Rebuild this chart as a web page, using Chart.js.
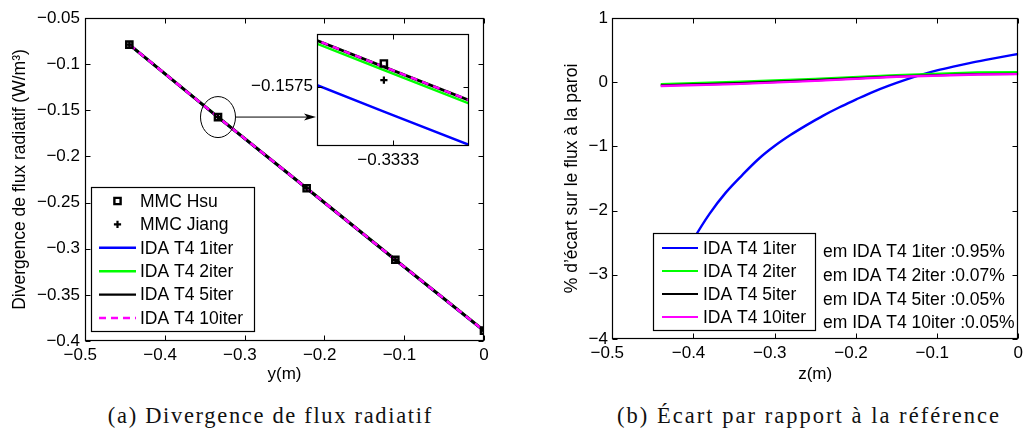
<!DOCTYPE html>
<html><head><meta charset="utf-8">
<script src="https://cdn.jsdelivr.net/npm/chart.js@4.4.1/dist/chart.umd.min.js"></script>
<style>
html,body{margin:0;padding:0;background:#fff;width:1027px;height:428px;overflow:hidden;position:relative}
canvas{position:absolute}
.cap{position:absolute;font-family:"Liberation Serif","DejaVu Serif",serif;font-size:22.5px;line-height:22px;white-space:nowrap;color:#111;text-align:center;width:600px}
</style></head><body>
<canvas id="cA" width="500" height="390" style="left:0;top:0"></canvas>
<canvas id="cI" width="250" height="160" style="left:230px;top:20px"></canvas>
<canvas id="cB" width="517" height="390" style="left:510px;top:0"></canvas>
<div class="cap" id="capA"></div>
<div class="cap" id="capB"></div>
<script>
// ---------- data: panel (a) ----------
const yPos      = [-0.44444, -0.33333, -0.22222, -0.11111, 0];
const mmcHsu    = [-0.0789, -0.15736, -0.2345, -0.3120, -0.3888];
const mmcJiang  = [-0.0789, -0.15746, -0.2345, -0.3120, -0.3888];
const idaA_1    = [-0.0791, -0.15765, -0.2348, -0.3123, -0.3891];
const idaA_2    = [-0.0789, -0.15740, -0.2345, -0.3120, -0.3888];
const idaA_5    = [-0.0789, -0.15738, -0.2345, -0.3120, -0.3888];
const idaA_10   = [-0.0789, -0.15738, -0.2345, -0.3120, -0.3888];
const xTicksA   = [-0.5, -0.4, -0.3, -0.2, -0.1, 0];
const yTicksA   = [-0.4, -0.35, -0.3, -0.25, -0.2, -0.15, -0.1, -0.05];
const insetXRange = [-0.33355, -0.33305];
const insetYRange = [-0.157858, -0.157183];
const insetXTick  = [-0.3333];
const insetYTick  = [-0.1575];
const labelsA   = ['MMC Hsu', 'MMC Jiang', 'IDA T4 1iter', 'IDA T4 2iter', 'IDA T4 5iter', 'IDA T4 10iter'];

// ---------- data: panel (b) ----------
const zBlue   = [-0.44,-0.42,-0.40,-0.38,-0.36,-0.34,-0.32,-0.30,-0.28,-0.26,-0.24,-0.22,-0.20,-0.18,-0.16,-0.14,-0.12,-0.10,-0.08,-0.06,-0.04,-0.02,0];
const ecart1  = [-3.42,-2.90,-2.45,-2.05,-1.72,-1.45,-1.20,-0.995,-0.82,-0.665,-0.52,-0.39,-0.272,-0.157,-0.057,0.033,0.113,0.183,0.243,0.298,0.348,0.395,0.44];
const zIter   = [-0.44, -0.35, -0.25, -0.15, -0.05, 0];
const ecart2  = [-0.03, 0.005, 0.05, 0.11, 0.15, 0.155];
const ecart5  = [-0.05, -0.02, 0.03, 0.09, 0.125, 0.13];
const ecart10 = [-0.06, -0.03, 0.02, 0.085, 0.12, 0.125];
const xTicksB = [-0.5, -0.4, -0.3, -0.2, -0.1, 0];
const yTicksB = [-4, -3, -2, -1, 0, 1];
const labelsB = ['IDA T4 1iter', 'IDA T4 2iter', 'IDA T4 5iter', 'IDA T4 10iter'];
const emValues = [0.95, 0.07, 0.05, 0.05];

const captionA = '(a) Divergence de flux radiatif';
const captionB = '(b) \u00c9cart par rapport \u00e0 la r\u00e9f\u00e9rence';

// ---------- helpers ----------
const SANS = '"Liberation Sans", Arial, Helvetica, sans-serif';
Chart.defaults.font.family = SANS;
Chart.defaults.font.size = 17;
Chart.defaults.color = '#000';
const MINUS = '\u2212';
function fmt(v){ return (v < 0 ? MINUS : '') + String(Math.abs(v)); }
function fmtX(v){ return v < 0 ? fmt(v) + '\u2007' : fmt(v); }
const pts = (xs, ys) => xs.map((x, i) => ({x: x, y: ys[i]}));
const BLUE = '#0000ff', GREEN = '#00ff00', BLACK = '#000000', MAGENTA = '#ff00ff';

function drawBox(chart, len){
  const {ctx, chartArea: a} = chart;
  const xs = chart.scales.x, ys = chart.scales.y;
  const L = Math.round(a.left) + 0.5, R = Math.round(a.right) - 0.5;
  const T = Math.round(a.top) + 0.5, B = Math.round(a.bottom) - 0.5;
  ctx.save();
  ctx.setLineDash([]);
  ctx.strokeStyle = '#000'; ctx.lineWidth = 1;
  ctx.beginPath();
  xs.ticks.forEach(t => {
    const p = Math.round(xs.getPixelForValue(t.value)) + 0.5;
    ctx.moveTo(p, B); ctx.lineTo(p, B - len);
    ctx.moveTo(p, T); ctx.lineTo(p, T + len);
  });
  ys.ticks.forEach(t => {
    const p = Math.round(ys.getPixelForValue(t.value)) + 0.5;
    ctx.moveTo(L, p); ctx.lineTo(L + len, p);
    ctx.moveTo(R, p); ctx.lineTo(R - len, p);
  });
  ctx.stroke();
  ctx.lineWidth = 1.2;
  ctx.strokeRect(L, T, R - L, B - T);
  ctx.restore();
}

function drawLegend(chart, cfg){
  const ctx = chart.ctx;
  ctx.save();
  ctx.fillStyle = '#fff';
  ctx.fillRect(cfg.x0, cfg.y0, cfg.x1 - cfg.x0, cfg.y1 - cfg.y0);
  ctx.strokeStyle = '#000'; ctx.lineWidth = 1.2; ctx.setLineDash([]);
  ctx.strokeRect(cfg.x0 + 0.5, cfg.y0 + 0.5, cfg.x1 - cfg.x0 - 1, cfg.y1 - cfg.y0 - 1);
  chart.data.datasets.forEach((ds, i) => {
    const y = cfg.row0 + i * cfg.step;
    const cx = (cfg.s0 + cfg.s1) / 2;
    if (ds.showLine === false) {
      ctx.strokeStyle = '#000'; ctx.lineWidth = ds.pointBorderWidth; ctx.setLineDash([]);
      ctx.beginPath();
      if (ds.pointStyle === 'rect') {
        const h = ds.pointRadius * Math.SQRT1_2;
        ctx.rect(cx - h, y - h, 2 * h, 2 * h);
      } else {
        const r = ds.pointRadius;
        ctx.moveTo(cx - r, y); ctx.lineTo(cx + r, y);
        ctx.moveTo(cx, y - r); ctx.lineTo(cx, y + r);
      }
      ctx.stroke();
    } else {
      ctx.strokeStyle = ds.borderColor; ctx.lineWidth = cfg.lw;
      ctx.setLineDash(ds.borderDash || []);
      ctx.beginPath(); ctx.moveTo(cfg.s0, y); ctx.lineTo(cfg.s1, y); ctx.stroke();
      ctx.setLineDash([]);
    }
    ctx.fillStyle = '#000';
    ctx.font = cfg.font;
    ctx.textAlign = 'left'; ctx.textBaseline = 'middle';
    ctx.fillText(ds.label, cfg.tx, y + 1);
  });
  ctx.restore();
}

// ---------- panel (a) datasets ----------
function datasetsA(lw){
  return [
    {label: labelsA[0], data: pts(yPos, mmcHsu), showLine: false, pointStyle: 'rect', pointRadius: 4.4,
     pointBorderWidth: 2.4, pointBorderColor: '#000', pointBackgroundColor: 'rgba(0,0,0,0)', borderColor: '#000', order: 0},
    {label: labelsA[1], data: pts(yPos, mmcJiang), showLine: false, pointStyle: 'cross', pointRadius: 3.6,
     pointBorderWidth: 2.2, pointBorderColor: '#000', pointBackgroundColor: '#000', borderColor: '#000', order: 1},
    {label: labelsA[2], data: pts(yPos, idaA_1), borderColor: BLUE, borderWidth: lw, pointRadius: 0, order: 5},
    {label: labelsA[3], data: pts(yPos, idaA_2), borderColor: GREEN, borderWidth: lw, pointRadius: 0, order: 4},
    {label: labelsA[4], data: pts(yPos, idaA_5), borderColor: BLACK, borderWidth: lw + 0.4, pointRadius: 0, order: 3},
    {label: labelsA[5], data: pts(yPos, idaA_10), borderColor: MAGENTA, borderWidth: lw, borderDash: [7, 5], pointRadius: 0, order: 2}
  ];
}

const decorA = {
  id: 'decorA',
  afterDatasetsDraw(chart){
    const ctx = chart.ctx, xs = chart.scales.x, ys = chart.scales.y;
    const cx = xs.getPixelForValue(yPos[1]), cy = ys.getPixelForValue(mmcHsu[1]);
    const rx = 17.5, ry = 20.5, tx = 316;
    ctx.save();
    ctx.strokeStyle = '#000'; ctx.lineWidth = 1; ctx.setLineDash([]);
    ctx.beginPath(); ctx.ellipse(cx, cy, rx, ry, 0, 0, Math.PI * 2); ctx.stroke();
    ctx.beginPath(); ctx.moveTo(cx + rx, cy); ctx.lineTo(tx - 8, cy); ctx.stroke();
    ctx.fillStyle = '#000';
    ctx.beginPath(); ctx.moveTo(tx, cy); ctx.lineTo(tx - 12, cy - 3.5); ctx.lineTo(tx - 9, cy); ctx.lineTo(tx - 12, cy + 3.5); ctx.closePath(); ctx.fill();
    ctx.restore();
    drawLegend(chart, {x0: 91, y0: 187, x1: 255, y1: 332, row0: 201, step: 23.4, s0: 99, s1: 136, tx: 140, lw: 2.4, font: '17.5px ' + SANS});
  },
  afterDraw(chart){ drawBox(chart, 5); }
};

new Chart(document.getElementById('cA'), {
  type: 'line',
  data: {datasets: datasetsA(2.6)},
  options: {
    responsive: false, animation: false, events: [],
    layout: {padding: {left: 0, top: 18, right: 16, bottom: 0}},
    plugins: {legend: {display: false}, tooltip: {enabled: false}},
    scales: {
      x: {type: 'linear', min: -0.5, max: 0,
          afterBuildTicks: s => { s.ticks = xTicksA.map(v => ({value: v})); },
          afterFit: s => { s.height = 49; },
          grid: {display: false, drawTicks: false}, border: {display: false},
          ticks: {padding: 4, maxRotation: 0, autoSkip: false, callback: v => fmtX(v), font: {size: 17}},
          title: {display: true, text: 'y(m)', font: {size: 17}, padding: {top: 0, bottom: 5}}},
      y: {type: 'linear', min: -0.4, max: -0.05,
          afterBuildTicks: s => { s.ticks = yTicksA.map(v => ({value: v})); },
          afterFit: s => { s.width = 85; },
          grid: {display: false, drawTicks: false}, border: {display: false},
          ticks: {padding: 5, autoSkip: false, callback: v => fmt(v), font: {size: 17}},
          title: {display: true, text: 'Divergence de flux radiatif (W/m\u00b3)', font: {size: 17.5}, padding: {top: 10, bottom: 0}}}
    }
  },
  plugins: [decorA]
});

// ---------- inset ----------
const decorI = {
  id: 'decorI',
  beforeDatasetsDraw(chart){
    const a = chart.chartArea;
    chart.ctx.save(); chart.ctx.fillStyle = '#fff';
    chart.ctx.fillRect(a.left, a.top, a.width, a.height); chart.ctx.restore();
  },
  afterDraw(chart){ drawBox(chart, 5); }
};
const insetSets = datasetsA(2.4).map(d => Object.assign(d, {clip: 0}));
new Chart(document.getElementById('cI'), {
  type: 'line',
  data: {datasets: insetSets},
  options: {
    responsive: false, animation: false, events: [],
    layout: {padding: {left: 0, top: 13, right: 11, bottom: 0}},
    plugins: {legend: {display: false}, tooltip: {enabled: false}},
    scales: {
      x: {type: 'linear', min: insetXRange[0], max: insetXRange[1],
          afterBuildTicks: s => { s.ticks = insetXTick.map(v => ({value: v})); },
          afterFit: s => { s.height = 34; },
          grid: {display: false, drawTicks: false}, border: {display: false},
          ticks: {padding: 4, maxRotation: 0, autoSkip: false, callback: v => fmtX(v), font: {size: 17}}},
      y: {type: 'linear', min: insetYRange[0], max: insetYRange[1],
          afterBuildTicks: s => { s.ticks = insetYTick.map(v => ({value: v})); },
          afterFit: s => { s.width = 87; },
          grid: {display: false, drawTicks: false}, border: {display: false},
          ticks: {padding: 4, autoSkip: false, callback: v => fmt(v), font: {size: 17}}}
    }
  },
  plugins: [decorI]
});

// ---------- panel (b) ----------
const decorB = {
  id: 'decorB',
  afterDatasetsDraw(chart){
    drawLegend(chart, {x0: 143, y0: 233, x1: 306, y1: 331, row0: 248, step: 23, s0: 152, s1: 188, tx: 193, lw: 2.2, font: '17.5px ' + SANS});
    const ctx = chart.ctx;
    ctx.save();
    ctx.fillStyle = '#000'; ctx.font = '17.5px ' + SANS;
    ctx.textAlign = 'left'; ctx.textBaseline = 'middle';
    labelsB.forEach((lab, i) => {
      ctx.fillText('em ' + lab + ' :' + emValues[i].toFixed(2) + '%', 313, 252.5 + i * 23.7);
    });
    ctx.restore();
  },
  afterDraw(chart){ drawBox(chart, 5); }
};

new Chart(document.getElementById('cB'), {
  type: 'line',
  data: {datasets: [
    {label: labelsB[0], data: pts(zBlue, ecart1), borderColor: BLUE, borderWidth: 2.4, pointRadius: 0, cubicInterpolationMode: 'monotone', order: 3},
    {label: labelsB[1], data: pts(zIter, ecart2), borderColor: GREEN, borderWidth: 2.4, pointRadius: 0, order: 2},
    {label: labelsB[2], data: pts(zIter, ecart5), borderColor: BLACK, borderWidth: 2.4, pointRadius: 0, order: 1},
    {label: labelsB[3], data: pts(zIter, ecart10), borderColor: MAGENTA, borderWidth: 2.4, pointRadius: 0, order: 0}
  ]},
  options: {
    responsive: false, animation: false, events: [],
    layout: {padding: {left: 0, top: 18, right: 5, bottom: 0}},
    plugins: {legend: {display: false}, tooltip: {enabled: false}},
    scales: {
      x: {type: 'linear', min: -0.5, max: 0,
          afterBuildTicks: s => { s.ticks = xTicksB.map(v => ({value: v})); },
          afterFit: s => { s.height = 51; },
          grid: {display: false, drawTicks: false}, border: {display: false},
          ticks: {padding: 4, maxRotation: 0, autoSkip: false, callback: v => fmtX(v), font: {size: 17}},
          title: {display: true, text: 'z(m)', font: {size: 17}, padding: {top: 0, bottom: 5}}},
      y: {type: 'linear', min: -4, max: 1,
          afterBuildTicks: s => { s.ticks = yTicksB.map(v => ({value: v})); },
          afterFit: s => { s.width = 102; },
          grid: {display: false, drawTicks: false}, border: {display: false},
          ticks: {padding: 4, autoSkip: false, callback: v => fmt(v), font: {size: 17}},
          title: {display: true, text: '% d\u2019\u00e9cart sur le flux \u00e0 la paroi', font: {size: 17.5}, padding: {top: 52, bottom: 0}}}
    }
  },
  plugins: [decorB]
});

// ---------- captions ----------
function placeCaption(id, text, center, target){
  const el = document.getElementById(id);
  el.textContent = text;
  const c = document.createElement('canvas').getContext('2d');
  c.font = '22.5px "Liberation Serif", "DejaVu Serif", serif';
  const w = c.measureText(text).width;
  const n = Array.from(text).length;
  const sp = (target - w) / n;
  el.style.letterSpacing = sp.toFixed(2) + 'px';
  el.style.left = (center - 300 + sp / 2) + 'px';
  el.style.top = '405px';
}
placeCaption('capA', captionA, 269.5, 325);
placeCaption('capB', captionB, 808, 384);
</script>
</body></html>
